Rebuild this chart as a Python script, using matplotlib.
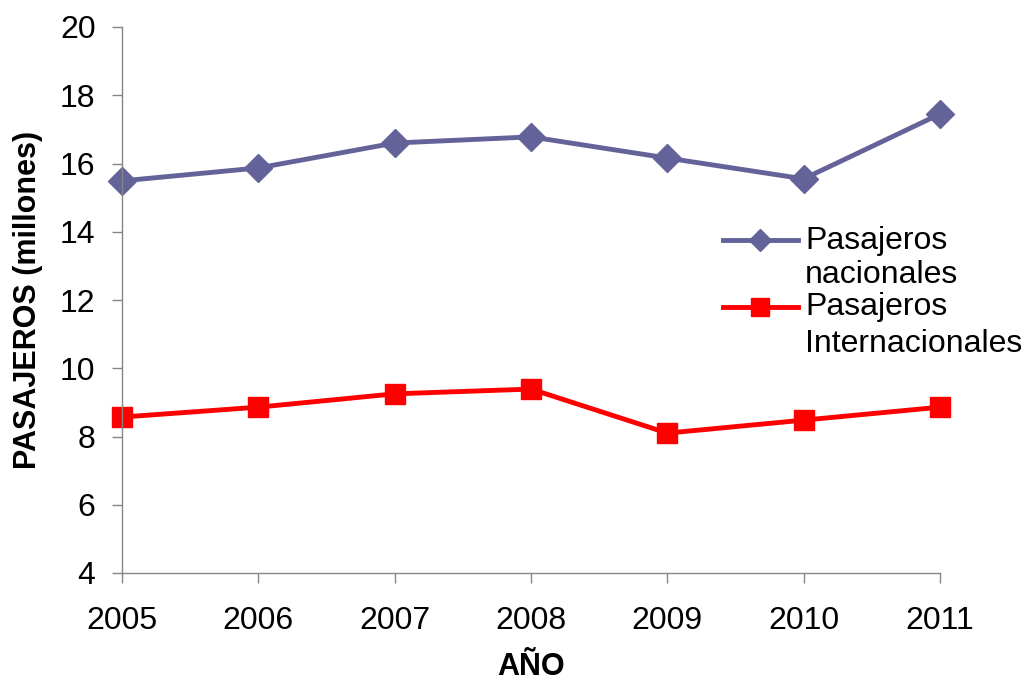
import matplotlib
matplotlib.use("Agg")
import matplotlib.pyplot as plt
from matplotlib.lines import Line2D

years = [2005, 2006, 2007, 2008, 2009, 2010, 2011]
nacionales = [15.49, 15.87, 16.6, 16.78, 16.16, 15.55, 17.45]
internacionales = [8.57, 8.86, 9.25, 9.39, 8.10, 8.48, 8.86]
labels = [["Pasajeros", "nacionales"], ["Pasajeros", "Internacionales"]]

plt.rcParams['font.family'] = ['Liberation Sans', 'DejaVu Sans']

W, H = 1023, 681
fig = plt.figure(figsize=(W / 100, H / 100), dpi=100)
ax = fig.add_axes([122 / W, 1 - 573 / H, (940 - 122) / W, (573 - 27) / H])

c_nac = '#646399'
c_int = '#ff0000'
ax.plot(years, nacionales, color=c_nac, lw=3.5, marker='D', ms=14, clip_on=False)
ax.plot(years, internacionales, color=c_int, lw=3.5, marker='s', ms=14, clip_on=False)

ax.set_xlim(2005, 2011)
ax.set_ylim(4, 20)
ax.set_yticks(range(4, 21, 2))
ax.set_xticks(years)
ax.tick_params(axis='both', labelsize=23, color='#868686', length=7, width=1)
ax.tick_params(axis='x', pad=17)
ax.tick_params(axis='y', pad=12)
for s in ['top', 'right']:
    ax.spines[s].set_visible(False)
for s in ['left', 'bottom']:
    ax.spines[s].set_color('#868686')
    ax.spines[s].set_linewidth(1)

ax.set_xlabel('AÑO', fontsize=22, fontweight='bold', labelpad=11)
ax.set_ylabel('PASAJEROS (millones)', fontsize=22, fontweight='bold', labelpad=12)

# legend drawn by hand: handle next to the first line of each label
legend_rows = [(240, [249, 283], c_nac, 'D', 11, labels[0]),
               (307, [315, 352], c_int, 's', 13, labels[1])]
for hy, bases, col, mk, ms, words in legend_rows:
    fy = 1 - hy / H
    fig.add_artist(Line2D([723 / W, 798 / W], [fy, fy], color=col, lw=3.5,
                          transform=fig.transFigure))
    fig.add_artist(Line2D([760 / W], [fy], color=col, marker=mk, ms=ms,
                          transform=fig.transFigure))
    for b, w in zip(bases, words):
        fig.text(805 / W, 1 - b / H, w, fontsize=23, va='baseline', ha='left')

fig.savefig('out.png', dpi=100)
